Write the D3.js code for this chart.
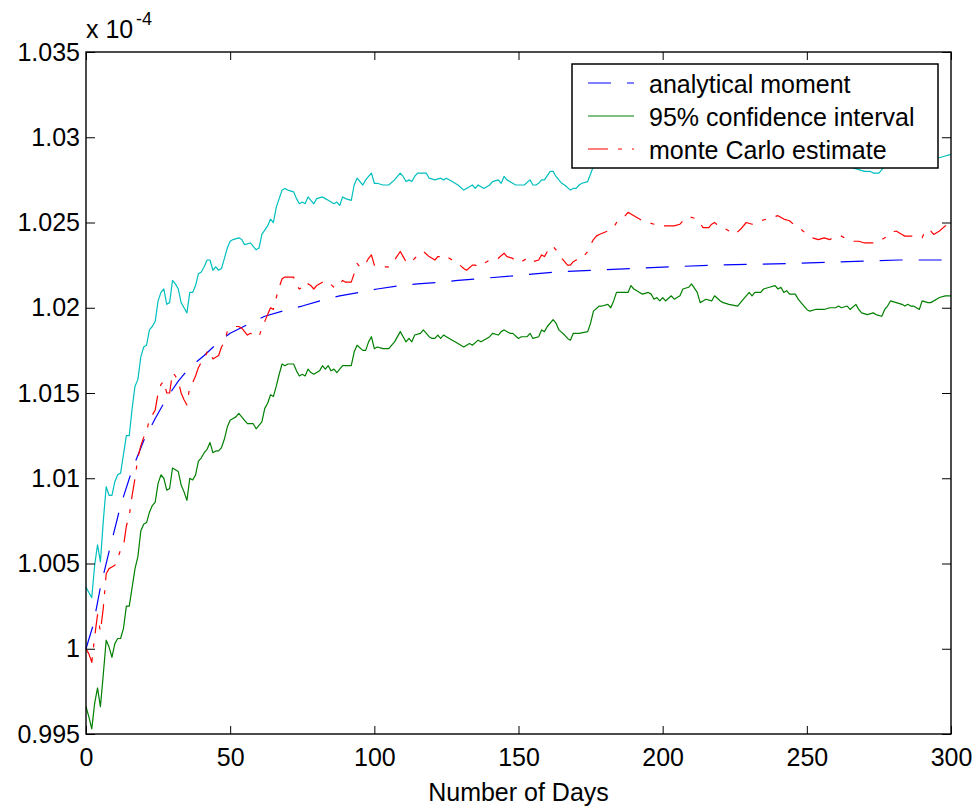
<!DOCTYPE html>
<html>
<head>
<meta charset="utf-8">
<script src="https://cdn.jsdelivr.net/npm/d3@7"></script>
<style>
    body { margin: 0; background: #fff; }
    text { font-family: "Liberation Sans", Arial, sans-serif; }
</style>
</head>
<body>
<div class="chart"></div>
<script>
// TICKS
var xTicks = [0, 50, 100, 150, 200, 250, 300];
var yTicks = [0.995, 1, 1.005, 1.01, 1.015, 1.02, 1.025, 1.03, 1.035];

// LEGEND LABELS
var legendLabels = ["analytical moment", "95% confidence interval", "monte Carlo estimate"];

// ANALYTICAL MOMENT [day, value x 1e-4]
var analytical = [[0,1.0000],[2.5,1.0014],[5,1.0036],[8,1.0057],[12,1.0084],[16,1.0105],[20,1.0122],
    [24,1.0135],[28,1.0147],[32,1.0157],[36,1.0165],[41,1.0172],[46,1.0180],[50,1.0185],[57,1.0191],
    [62,1.0195],[70,1.0199],[75,1.0201],[83,1.0205],[88,1.0207],[95,1.0209],[101,1.0211],[109,1.0213],
    [115,1.0214],[123,1.0215],[129,1.0216],[150,1.0219],[163,1.0221],[189,1.0223],[217,1.0225],
    [246,1.0226],[282,1.0228],[300,1.0228]];

// LOWER 95% BOUND
var lowerCI = [[0,0.9966],[1,0.9960],[2,0.9953],[3,0.9968],[4,0.9977],[5,0.9966],[6,0.9985],[7,1.0005],
    [8,1.0001],[9,0.9995],[10,1.0003],[11,1.0006],[12,1.0006],[13,1.0012],[14,1.0025],[15,1.0025],
    [16,1.0036],[17,1.0047],[18,1.0054],[19,1.0069],[20,1.0073],[21,1.0074],[22,1.0080],[23,1.0084],
    [24,1.0086],[25,1.0097],[26,1.0102],[27,1.0100],[28,1.0093],[29,1.0094],[30,1.0106],[31,1.0105],
    [32,1.0104],[33,1.0096],[34,1.0092],[35,1.0087],[36,1.0100],[37,1.0099],[38,1.0102],[39,1.0110],
    [40,1.0112],[41,1.0115],[42,1.0117],[43,1.0121],[44,1.0115],[45,1.0116],[46,1.0116],[47,1.0118],
    [48,1.0123],[49,1.0130],[50,1.0134],[51,1.0135],[52,1.0136],[53,1.0138],[54,1.0136],[55,1.0134],
    [56,1.0132],[57,1.0132],[58,1.0132],[59,1.0129],[60,1.0131],[61,1.0133],[62,1.0141],[63,1.0144],
    [64,1.0149],[65,1.0148],[66,1.0154],[67,1.0161],[68,1.0167],[69,1.0166],[70,1.0167],[72,1.0167],
    [73,1.0163],[74,1.0160],[75,1.0161],[76,1.0160],[77,1.0164],[78,1.0162],[79,1.0161],[81,1.0163],
    [82,1.0166],[83,1.0164],[84,1.0166],[85,1.0163],[86,1.0164],[87,1.0162],[89,1.0166],[90,1.0166],
    [92,1.0166],[93,1.0174],[94,1.0178],[96,1.0175],[97,1.0175],[98,1.0180],[99,1.0183],[100,1.0176],
    [101,1.0177],[103,1.0176],[105,1.0176],[107,1.0180],[109,1.0186],[110,1.0183],[111,1.0180],
    [112,1.0182],[113,1.0180],[114,1.0184],[116,1.0185],[117,1.0187],[119,1.0183],[120,1.0182],
    [121,1.0182],[122,1.0184],[123,1.0182],[124,1.0184],[126,1.0182],[127,1.0181],[128,1.0180],
    [129,1.0179],[131,1.0177],[133,1.0179],[134,1.0178],[136,1.0181],[137,1.0180],[139,1.0182],
    [140,1.0183],[141,1.0185],[143,1.0184],[144,1.0186],[145,1.0187],[147,1.0185],[148,1.0185],
    [150,1.0182],[151,1.0183],[153,1.0183],[154,1.0185],[155,1.0182],[157,1.0183],[158,1.0187],
    [159,1.0186],[160,1.0189],[162,1.0193],[163,1.0191],[164,1.0187],[166,1.0184],[167,1.0182],
    [168,1.0181],[169,1.0185],[171,1.0185],[174,1.0186],[175,1.0191],[176,1.0198],[178,1.0201],
    [179,1.0201],[181,1.0202],[182,1.0200],[183,1.0204],[184,1.0209],[186,1.0209],[188,1.0209],
    [189,1.0213],[190,1.0211],[192,1.0209],[193,1.0208],[195,1.0209],[196,1.0208],[197,1.0205],
    [198,1.0206],[199,1.0204],[200,1.0206],[201,1.0204],[203,1.0207],[204,1.0205],[205,1.0206],
    [206,1.0207],[207,1.0211],[209,1.0212],[210,1.0214],[212,1.0209],[213,1.0203],[214,1.0204],
    [215,1.0205],[217,1.0204],[218,1.0207],[220,1.0204],[221,1.0203],[223,1.0202],[226,1.0201],
    [228,1.0205],[229,1.0207],[230,1.0209],[231,1.0207],[232,1.0209],[234,1.0209],[235,1.0211],
    [237,1.0212],[239,1.0213],[240,1.0211],[241,1.0212],[242,1.0209],[243,1.0210],[244,1.0208],
    [246,1.0208],[247,1.0205],[248,1.0203],[250,1.0199],[251,1.0198],[253,1.0199],[254,1.0199],
    [256,1.0199],[258,1.0200],[260,1.0200],[261,1.0201],[262,1.0200],[264,1.0201],[265,1.0199],
    [267,1.0202],[268,1.0199],[269,1.0197],[271,1.0196],[273,1.0197],[274,1.0196],[276,1.0195],
    [277,1.0199],[278,1.0201],[279,1.0204],[281,1.0203],[283,1.0202],[284,1.0201],[285,1.0202],
    [286,1.0201],[287,1.0201],[289,1.0199],[290,1.0204],[292,1.0203],[293,1.0203],[295,1.0205],
    [296,1.0206],[298,1.0207],[300,1.0207]];

// MONTE CARLO ESTIMATE
var monteCarlo = [[0,1.0000],[1,0.9997],[2,0.9992],[3,1.0007],[4,1.0020],[5,1.0010],[6,1.0024],[7,1.0044],
    [8,1.0047],[9,1.0048],[10,1.0049],[11,1.0053],[12,1.0058],[13,1.0060],[14,1.0072],[15,1.0078],
    [16,1.0090],[17,1.0100],[18,1.0112],[19,1.0119],[20,1.0124],[21,1.0127],[22,1.0135],[23,1.0137],
    [24,1.0140],[25,1.0150],[26,1.0155],[27,1.0157],[28,1.0150],[29,1.0150],[30,1.0162],[31,1.0160],
    [32,1.0157],[33,1.0150],[34,1.0146],[35,1.0143],[36,1.0154],[37,1.0156],[38,1.0160],[39,1.0165],
    [40,1.0168],[41,1.0170],[42,1.0174],[43,1.0175],[44,1.0170],[45,1.0171],[46,1.0172],[47,1.0177],
    [48,1.0180],[49,1.0186],[50,1.0187],[51,1.0188],[52,1.0189],[53,1.0189],[54,1.0188],[55,1.0186],
    [56,1.0184],[57,1.0185],[58,1.0184],[59,1.0183],[60,1.0183],[61,1.0188],[62,1.0192],[63,1.0196],
    [64,1.0200],[65,1.0199],[66,1.0206],[67,1.0212],[68,1.0217],[69,1.0218],[70,1.0218],[72,1.0218],
    [73,1.0213],[74,1.0211],[75,1.0212],[76,1.0211],[77,1.0214],[78,1.0213],[79,1.0211],[80,1.0213],
    [82,1.0215],[83,1.0214],[84,1.0215],[86,1.0212],[87,1.0212],[88,1.0214],[89,1.0216],[90,1.0215],
    [92,1.0215],[93,1.0220],[94,1.0226],[95,1.0224],[96,1.0224],[97,1.0226],[98,1.0229],[99,1.0231],
    [100,1.0225],[101,1.0225],[103,1.0224],[105,1.0224],[106,1.0226],[107,1.0228],[109,1.0233],
    [110,1.0230],[111,1.0227],[112,1.0228],[113,1.0227],[114,1.0229],[116,1.0232],[117,1.0233],
    [119,1.0230],[121,1.0228],[122,1.0230],[123,1.0230],[124,1.0229],[125,1.0230],[127,1.0228],
    [129,1.0226],[131,1.0223],[132,1.0222],[134,1.0225],[135,1.0225],[136,1.0224],[138,1.0226],
    [139,1.0227],[141,1.0229],[143,1.0229],[145,1.0232],[146,1.0230],[148,1.0229],[149,1.0227],
    [151,1.0227],[153,1.0229],[154,1.0227],[155,1.0227],[157,1.0228],[158,1.0231],[159,1.0230],
    [161,1.0236],[162,1.0236],[163,1.0234],[165,1.0229],[166,1.0227],[167,1.0225],[168,1.0225],
    [169,1.0227],[170,1.0228],[171,1.0229],[172,1.0229],[174,1.0233],[175,1.0237],[176,1.0240],
    [177,1.0242],[178,1.0243],[181,1.0245],[183,1.0247],[184,1.0250],[186,1.0252],[188,1.0256],
    [189,1.0255],[190,1.0254],[192,1.0252],[193,1.0251],[195,1.0250],[197,1.0249],[199,1.0248],
    [201,1.0248],[202,1.0248],[204,1.0248],[206,1.0249],[208,1.0253],[210,1.0253],[212,1.0252],
    [214,1.0247],[216,1.0247],[217,1.0249],[218,1.0250],[220,1.0247],[222,1.0246],[224,1.0244],
    [225,1.0243],[227,1.0246],[229,1.0250],[231,1.0249],[233,1.0250],[234,1.0251],[236,1.0252],
    [238,1.0253],[240,1.0254],[242,1.0252],[244,1.0251],[246,1.0248],[248,1.0246],[250,1.0243],
    [252,1.0241],[254,1.0240],[256,1.0241],[258,1.0240],[259,1.0241],[260,1.0242],[262,1.0242],
    [264,1.0240],[266,1.0239],[268,1.0239],[270,1.0238],[272,1.0238],[274,1.0238],[276,1.0240],
    [278,1.0242],[279,1.0244],[281,1.0245],[283,1.0243],[284,1.0242],[286,1.0242],[288,1.0242],
    [290,1.0241],[291,1.0245],[292,1.0244],[293,1.0245],[294,1.0243],[296,1.0245],[298,1.0248],
    [300,1.0248]];

// UPPER 95% BOUND
var upperCI = [[0,1.0036],[1,1.0033],[2,1.0030],[3,1.0049],[4,1.0061],[5,1.0051],[6,1.0075],[7,1.0095],
    [8,1.0090],[9,1.0090],[10,1.0098],[11,1.0102],[12,1.0103],[13,1.0114],[14,1.0125],[15,1.0125],
    [16,1.0141],[17,1.0154],[18,1.0158],[19,1.0171],[20,1.0177],[21,1.0178],[22,1.0187],[23,1.0189],
    [24,1.0192],[25,1.0204],[26,1.0209],[27,1.0211],[28,1.0202],[29,1.0203],[30,1.0216],[31,1.0214],
    [32,1.0211],[33,1.0203],[34,1.0200],[35,1.0197],[36,1.0209],[37,1.0209],[38,1.0213],[39,1.0220],
    [40,1.0221],[41,1.0224],[42,1.0228],[43,1.0228],[44,1.0222],[45,1.0224],[46,1.0222],[47,1.0223],
    [48,1.0229],[49,1.0235],[50,1.0239],[51,1.0240],[53,1.0241],[54,1.0240],[55,1.0237],[57,1.0238],
    [58,1.0236],[59,1.0234],[60,1.0235],[61,1.0243],[63,1.0248],[64,1.0252],[65,1.0250],[66,1.0259],
    [68,1.0269],[69,1.0270],[70,1.0269],[72,1.0268],[73,1.0264],[74,1.0261],[75,1.0262],[76,1.0261],
    [77,1.0265],[78,1.0263],[79,1.0261],[80,1.0264],[82,1.0265],[83,1.0264],[84,1.0263],[86,1.0261],
    [87,1.0262],[88,1.0260],[89,1.0265],[90,1.0264],[92,1.0263],[93,1.0272],[94,1.0276],[96,1.0272],
    [97,1.0275],[98,1.0277],[99,1.0279],[100,1.0273],[101,1.0273],[103,1.0272],[105,1.0272],
    [107,1.0275],[109,1.0279],[110,1.0277],[111,1.0274],[112,1.0275],[113,1.0274],[114,1.0277],
    [115,1.0279],[117,1.0279],[118,1.0279],[119,1.0276],[121,1.0275],[123,1.0276],[124,1.0275],
    [125,1.0276],[127,1.0274],[129,1.0272],[131,1.0269],[132,1.0270],[134,1.0272],[135,1.0270],
    [136,1.0272],[138,1.0270],[140,1.0272],[141,1.0274],[143,1.0275],[144,1.0273],[145,1.0277],
    [146,1.0275],[148,1.0273],[149,1.0272],[151,1.0272],[152,1.0272],[154,1.0275],[155,1.0272],
    [156,1.0272],[157,1.0273],[158,1.0275],[159,1.0275],[161,1.0280],[162,1.0280],[163,1.0277],
    [165,1.0273],[166,1.0272],[168,1.0269],[169,1.0270],[170,1.0270],[171,1.0272],[172,1.0273],
    [174,1.0274],[176,1.0283],[178,1.0285],[181,1.0288],[183,1.0289],[186,1.0295],[188,1.0300],
    [190,1.0297],[192,1.0295],[195,1.0293],[197,1.0292],[200,1.0290],[202,1.0290],[205,1.0293],
    [208,1.0295],[210,1.0296],[212,1.0294],[214,1.0292],[216,1.0291],[220,1.0293],[223,1.0290],
    [225,1.0286],[228,1.0290],[230,1.0293],[233,1.0292],[236,1.0293],[240,1.0297],[243,1.0293],
    [245,1.0290],[248,1.0288],[250,1.0286],[253,1.0284],[256,1.0283],[259,1.0283],[262,1.0284],
    [265,1.0283],[266,1.0282],[268,1.0281],[270,1.0280],[272,1.0280],[273,1.0279],[275,1.0279],
    [276,1.0281],[278,1.0285],[281,1.0289],[284,1.0284],[287,1.0286],[290,1.0285],[293,1.0288],
    [296,1.0288],[298,1.0289],[300,1.0290]];

(function () {

    //SET DIMENSIONS
    var W = 980, H = 809;
    var margin = { top: 52, right: 29, bottom: 75, left: 86 },
        width = W - margin.left - margin.right,
        height = H - margin.top - margin.bottom;

    var font = "'Liberation Sans', Arial, sans-serif";

    //SCALES
    var x = d3.scaleLinear().domain([0, 300]).range([0, width]);
    var y = d3.scaleLinear().domain([0.995, 1.035]).range([height, 0]);

    var svg = d3.select(".chart").append("svg")
        .attr("width", W)
        .attr("height", H)
        .style("display", "block")
        .append("g")
        .attr("transform", "translate(" + margin.left + "," + margin.top + ")");

    var line = d3.line()
        .x(function (d) { return x(d[0]); })
        .y(function (d) { return y(d[1]); });

    //SERIES (plot order)
    var series = [
        { data: analytical, color: "#0000ff", dash: "23,16" },
        { data: lowerCI, color: "#008000", dash: null },
        { data: monteCarlo, color: "#ff0000", dash: "20,10,4,10" },
        { data: upperCI, color: "#00bfbf", dash: null }
    ];

    var plot = svg.append("g");
    series.forEach(function (s) {
        plot.append("path")
            .datum(s.data)
            .attr("fill", "none")
            .attr("stroke", s.color)
            .attr("stroke-width", 1.2)
            .attr("stroke-dasharray", s.dash)
            .attr("stroke-linejoin", "round")
            .attr("d", line);
    });

    //AXES
    function styleAxis(g) {
        g.select(".domain").remove();
        g.selectAll(".tick line").attr("stroke", "#000").attr("stroke-width", 1);
        g.selectAll("text").attr("font-family", font).attr("font-size", 25).attr("fill", "#000");
    }

    svg.append("g")
        .attr("transform", "translate(0," + height + ")")
        .call(d3.axisBottom(x).tickValues(xTicks).tickSizeInner(-8).tickSizeOuter(0).tickPadding(14))
        .call(styleAxis);

    svg.append("g")
        .call(d3.axisTop(x).tickValues(xTicks).tickSizeInner(-8).tickSizeOuter(0).tickFormat(""))
        .call(styleAxis);

    svg.append("g")
        .call(d3.axisLeft(y).tickValues(yTicks).tickSizeInner(-9).tickSizeOuter(0).tickPadding(6)
            .tickFormat(function (d) { return String(+d.toFixed(3)); }))
        .call(styleAxis);

    svg.append("g")
        .attr("transform", "translate(" + width + ",0)")
        .call(d3.axisRight(y).tickValues(yTicks).tickSizeInner(-9).tickSizeOuter(0).tickFormat(""))
        .call(styleAxis);

    //BOX
    svg.append("rect")
        .attr("width", width)
        .attr("height", height)
        .attr("fill", "none")
        .attr("stroke", "#000")
        .attr("stroke-width", 1.4);

    //EXPONENT LABEL
    var expo = svg.append("text")
        .attr("x", 0)
        .attr("y", -14)
        .attr("font-family", font)
        .attr("font-size", 25)
        .text("x 10");
    svg.append("text")
        .attr("x", 50)
        .attr("y", -27)
        .attr("font-family", font)
        .attr("font-size", 18)
        .text("-4");

    //X LABEL
    svg.append("text")
        .attr("x", width / 2)
        .attr("y", height + 67)
        .attr("text-anchor", "middle")
        .attr("font-family", font)
        .attr("font-size", 25)
        .text("Number of Days");

    //LEGEND
    var legend = svg.append("g")
        .attr("transform", "translate(" + (572 - margin.left) + "," + (64 - margin.top) + ")");

    legend.append("rect")
        .attr("width", 366)
        .attr("height", 104)
        .attr("fill", "#fff")
        .attr("stroke", "#000")
        .attr("stroke-width", 1.5);

    var legendStyles = [series[0], series[1], series[2]];
    legendLabels.forEach(function (label, i) {
        var ly = 19 + i * 33;
        legend.append("line")
            .attr("x1", 16).attr("x2", 62)
            .attr("y1", ly).attr("y2", ly)
            .attr("stroke", legendStyles[i].color)
            .attr("stroke-width", 1.2)
            .attr("stroke-dasharray", legendStyles[i].dash);
        legend.append("text")
            .attr("x", 77)
            .attr("y", ly + 9.5)
            .attr("font-family", font)
            .attr("font-size", 25)
            .text(label);
    });

})();
</script>
</body>
</html>
